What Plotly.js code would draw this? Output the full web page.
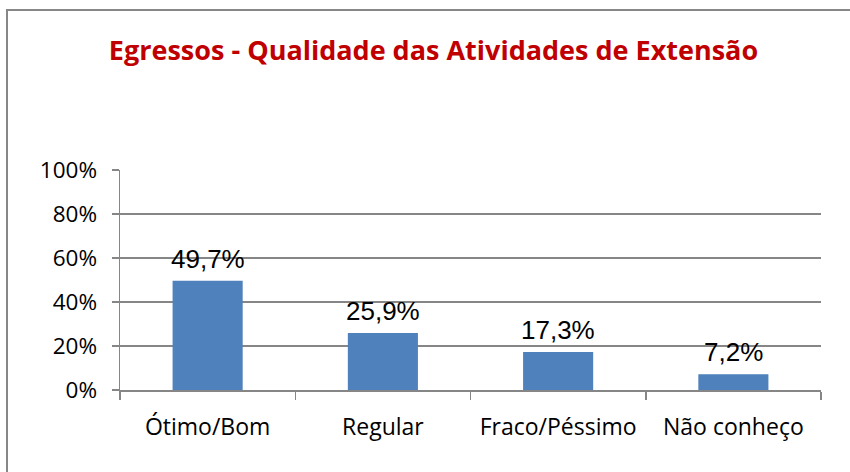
<!DOCTYPE html>
<html>
<head>
<meta charset="utf-8">
<script src="https://cdn.plot.ly/plotly-3.0.1.min.js"></script>
<style>
  html, body { margin: 0; padding: 0; background: #fff; }
  #chart { position: absolute; left: 0; top: 0; width: 850px; height: 472px; }
  #frame { position: absolute; left: 6px; top: 9px; width: 900px; height: 500px;
           border-left: 2px solid #878787; border-top: 2px solid #878787; pointer-events: none; }
</style>
</head>
<body>
<div id="chart"></div>
<div id="frame"></div>
<script>
const categories = ["Ótimo/Bom", "Regular", "Fraco/Péssimo", "Não conheço"];
const values = [0.497, 0.259, 0.173, 0.072];
const valueLabels = ["49,7%", "25,9%", "17,3%", "7,2%"];
const yTickVals = [0, 0.2, 0.4, 0.6, 0.8, 1.0];
const yTickText = ["0%", "20%", "40%", "60%", "80%", "100%"];
const titleText = "Egressos - Qualidade das Atividades de Extensão";

const trace = {
  type: "bar",
  x: categories,
  y: values,
  width: 0.4,
  marker: { color: "#4F81BD", line: { width: 0 } },
  hoverinfo: "none"
};

const annotations = categories.map((c, i) => ({
  x: c, y: values[i], xref: "x", yref: "y",
  text: valueLabels[i], showarrow: false,
  yanchor: "bottom", yshift: 5,
  font: { family: "Liberation Sans, Arial, sans-serif", size: 26, color: "#000" }
}));

const layout = {
  width: 850, height: 472,
  margin: { l: 120, r: 29, t: 170, b: 82 },
  paper_bgcolor: "#fff", plot_bgcolor: "#fff",
  showlegend: false,
  title: {
    text: "<b>" + titleText + "</b>",
    x: 0.51, xref: "container", xanchor: "center",
    y: 0.892, yref: "container", yanchor: "middle",
    font: { family: "Open Sans, sans-serif", size: 27, color: "#C00000" }
  },
  xaxis: {
    type: "category",
    showline: true, linecolor: "#868686", linewidth: 1.5,
    ticks: "outside", ticklen: 8, tickcolor: "#868686", tickwidth: 1.5,
    tickson: "boundaries",
    showgrid: false,
    ticklabelstandoff: 16,
    tickfont: { family: "Open Sans, sans-serif", size: 23, color: "#000" }
  },
  yaxis: {
    range: [0, 1.0],
    tickvals: yTickVals, ticktext: yTickText,
    showline: true, linecolor: "#868686", linewidth: 1.5,
    ticks: "outside", ticklen: 7, tickcolor: "#868686", tickwidth: 1.5,
    showgrid: true, gridcolor: "#868686", gridwidth: 1.5,
    zeroline: false,
    ticklabelstandoff: 10,
    tickfont: { family: "Open Sans, sans-serif", size: 22.5, color: "#000" }
  },
  annotations: annotations
};

Plotly.newPlot("chart", [trace], layout, { staticPlot: true, displayModeBar: false });
</script>
</body>
</html>
